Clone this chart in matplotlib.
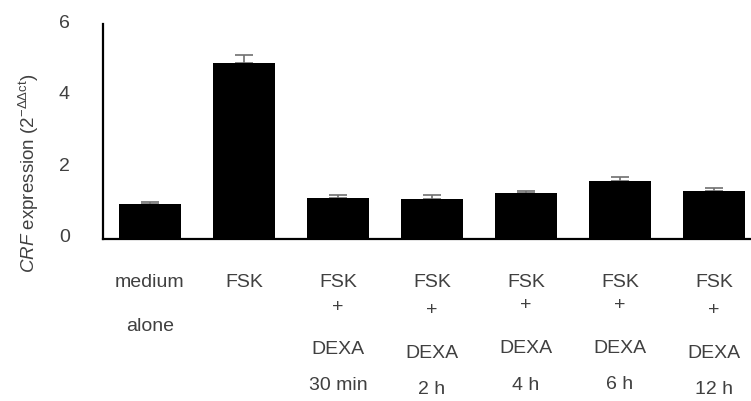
import matplotlib
matplotlib.use("Agg")
import matplotlib.pyplot as plt
from matplotlib.transforms import ScaledTranslation, blended_transform_factory

# данные: экспрессия CRF (2^-ddCt), среднее и верхняя ошибка
groups = ["medium alone", "FSK", "FSK+DEXA 30 min", "FSK+DEXA 2 h",
          "FSK+DEXA 4 h", "FSK+DEXA 6 h", "FSK+DEXA 12 h"]
means = [0.97, 4.90, 1.15, 1.13, 1.28, 1.63, 1.33]
errors = [0.06, 0.23, 0.07, 0.09, 0.05, 0.09, 0.10]

# подписи под столбцами построчно
label_lines = [
    ["medium", "alone"],
    ["FSK"],
    ["FSK", "+", "DEXA", "30 min"],
    ["FSK", "+", "DEXA", "2 h"],
    ["FSK", "+", "DEXA", "4 h"],
    ["FSK", "+", "DEXA", "6 h"],
    ["FSK", "+", "DEXA", "12 h"],
]
y_ticks = [0, 2, 4, 6]

plt.rcParams['font.family'] = ['Liberation Sans', 'DejaVu Sans']
plt.rcParams['mathtext.fontset'] = 'custom'
plt.rcParams['mathtext.rm'] = 'Liberation Sans'
plt.rcParams['mathtext.it'] = 'Liberation Sans:italic'

txt_color = '#404040'

fig = plt.figure(figsize=(7.51, 4.02), dpi=100)
ax = fig.add_axes([103 / 751, 1 - 240 / 402, 1 - 103 / 751, 215 / 402])

x = list(range(len(groups)))
ax.bar(x, means, width=0.67, color='black', zorder=2)
ax.errorbar(x, means, yerr=[[0] * len(errors), errors], fmt='none',
            ecolor='#707070', elinewidth=1.2, capsize=6.5, capthick=1.2, zorder=1)

ax.set_xlim(-0.5, -0.5 + 648 / 94)
ax.set_ylim(0, 6)
ax.set_yticks(y_ticks)
ax.set_xticks([])

for s in ['top', 'right']:
    ax.spines[s].set_visible(False)
for s in ['left', 'bottom']:
    ax.spines[s].set_linewidth(1.6)
    ax.spines[s].set_color('black')

ax.tick_params(axis='y', length=0, pad=24, labelsize=14, labelcolor=txt_color)
shift = ScaledTranslation(0, 4 / 100, fig.dpi_scale_trans)
for lbl in ax.get_yticklabels():
    lbl.set_transform(lbl.get_transform() + shift)

# вертикальные позиции строк подписей (в пикселях от верха рисунка)
row_y = {
    0: [283, 327],
    1: [283],
    2: [283, 307, 350, 386],
    3: [283, 311, 354, 390],
    4: [283, 306, 349, 386],
    5: [283, 306, 349, 385],
    6: [283, 311, 354, 390],
}
trans = blended_transform_factory(ax.transData, fig.transFigure)
for i, lines in enumerate(label_lines):
    for line, py in zip(lines, row_y[i]):
        ax.text(i, 1 - py / 402, line, transform=trans, ha='center', va='center',
                fontsize=14, color=txt_color, clip_on=False)

fig.text(29 / 751, 1 - 173 / 402,
         r'$\mathit{CRF}$ expression (2$^{\mathrm{-\Delta\Delta ct}}$)',
         rotation=90, ha='center', va='center', fontsize=13.5, color=txt_color)

fig.savefig('out.png', dpi=100)
